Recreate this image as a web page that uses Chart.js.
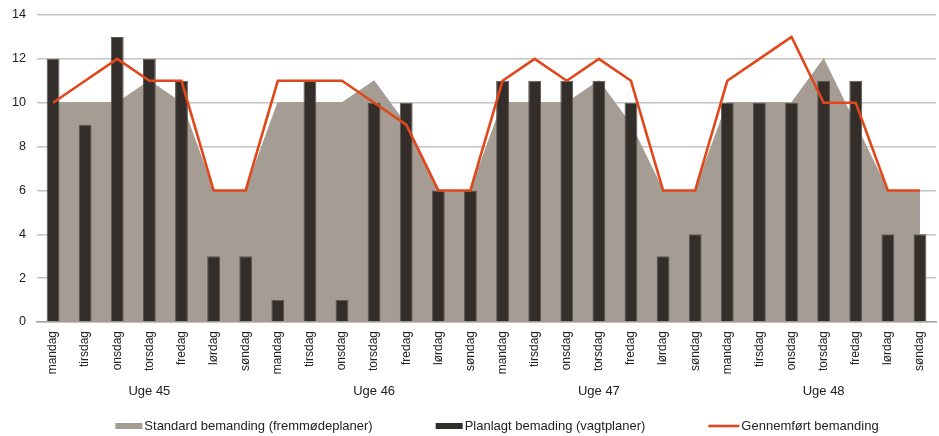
<!DOCTYPE html>
<html>
<head>
<meta charset="utf-8">
<script src="https://cdn.jsdelivr.net/npm/chart.js@4"></script>
<style>
  html, body { margin: 0; padding: 0; background: #ffffff; }
  #wrap { width: 939px; height: 436px; position: relative; }
</style>
</head>
<body>
<div id="wrap"><canvas id="chart"></canvas></div>
<script>
// Week days and weeks shown on the category axis
const days = ['mandag', 'tirsdag', 'onsdag', 'torsdag', 'fredag', 'lørdag', 'søndag'];
const weeks = ['Uge 45', 'Uge 46', 'Uge 47', 'Uge 48'];

// Staffing per day, four weeks in a row
const standardStaffing = [10, 10, 10, 11, 10, 6, 6,  10, 10, 10, 11, 9, 6, 6,  10, 10, 10, 11, 9, 6, 6,  10, 10, 10, 12, 9, 6, 6];
const plannedStaffing  = [12, 9, 13, 12, 11, 3, 3,   1, 11, 1, 10, 10, 6, 6,   11, 11, 11, 11, 10, 3, 4,  10, 10, 10, 11, 11, 4, 4];
const actualStaffing   = [10, 11, 12, 11, 11, 6, 6,  11, 11, 11, 10, 9, 6, 6,  11, 12, 11, 12, 11, 6, 6,  11, 12, 13, 10, 10, 6, 6];

const seriesNames = ['Standard bemanding (fremmødeplaner)', 'Planlagt bemading (vagtplaner)', 'Gennemført bemanding'];

// Day labels for every column, week label under the middle day of each week
const dayLabels = weeks.flatMap(() => days);
const weekLabels = weeks.flatMap(w => days.map((d, i) => (i === 3 ? w : '')));

const FONT = 'Liberation Sans, Arial, sans-serif';
const TEXT = '#222222';

// Key row under the chart: swatch + name per dataset, spread out and centred
const seriesKey = {
  id: 'seriesKey',
  afterDraw(chart, args, opts) {
    const ctx = chart.ctx;
    ctx.save();
    ctx.font = `${opts.fontSize}px ${FONT}`;
    ctx.textBaseline = 'middle';
    ctx.fillStyle = TEXT;
    const entries = chart.data.datasets.map(ds => ({
      ds,
      swatch: ds.type === 'line' && !ds.fill ? opts.lineSwatch : opts.boxSwatch,
      textW: ctx.measureText(ds.label).width
    }));
    const total = entries.reduce((s, e) => s + e.swatch + opts.textGap + e.textW, 0) + opts.itemGap * (entries.length - 1);
    let x = opts.centerX - total / 2;
    const y = opts.y;
    entries.forEach(e => {
      const ds = e.ds;
      if (ds.type === 'line' && !ds.fill) {
        ctx.strokeStyle = ds.borderColor;
        ctx.lineWidth = ds.borderWidth;
        ctx.beginPath();
        ctx.moveTo(x, y);
        ctx.lineTo(x + e.swatch, y);
        ctx.stroke();
      } else {
        ctx.fillStyle = ds.backgroundColor;
        ctx.fillRect(x, y - opts.boxH / 2, e.swatch, opts.boxH);
      }
      x += e.swatch + opts.textGap;
      ctx.fillStyle = TEXT;
      ctx.fillText(ds.label, x, y + 0.5);
      x += e.textW + opts.itemGap;
    });
    ctx.restore();
  }
};

new Chart(document.getElementById('chart'), {
  type: 'bar',
  data: {
    labels: dayLabels,
    datasets: [
      {
        type: 'line',
        label: seriesNames[0],
        data: standardStaffing,
        fill: 'origin',
        backgroundColor: '#a59c94',
        borderColor: '#a59c94',
        borderWidth: 1,
        pointRadius: 0,
        tension: 0,
        order: 3
      },
      {
        type: 'bar',
        label: seriesNames[1],
        data: plannedStaffing,
        backgroundColor: '#342e2a',
        borderColor: '#5e5650',
        borderWidth: 1,
        barPercentage: 0.4,
        categoryPercentage: 1,
        order: 2
      },
      {
        type: 'line',
        label: seriesNames[2],
        data: actualStaffing,
        fill: false,
        borderColor: '#e0481c',
        backgroundColor: '#e0481c',
        borderWidth: 2.6,
        pointRadius: 0,
        tension: 0,
        order: 1
      }
    ]
  },
  plugins: [seriesKey],
  options: {
    responsive: true,
    maintainAspectRatio: false,
    animation: false,
    layout: { padding: { top: 15, right: 3, left: 0, bottom: 34 } },
    plugins: {
      tooltip: { enabled: false },
      legend: { display: false },
      seriesKey: {
        fontSize: 13,
        y: 426,
        centerX: 497,
        boxSwatch: 27,
        lineSwatch: 31,
        boxH: 6,
        textGap: 2,
        itemGap: 63
      }
    },
    scales: {
      x: {
        type: 'category',
        position: 'bottom',
        offset: true,
        grid: { display: true, drawOnChartArea: false, drawTicks: true, tickLength: 9, tickColor: 'rgba(0,0,0,0)' },
        border: { display: true, color: '#a6a6a6', width: 1.5 },
        ticks: {
          autoSkip: false,
          minRotation: 90,
          maxRotation: 90,
          padding: 0,
          color: TEXT,
          font: { family: FONT, size: 12 }
        },
        afterFit(scale) { scale.height = 56; }
      },
      x2: {
        type: 'category',
        position: 'bottom',
        labels: weekLabels,
        offset: true,
        grid: { display: false, drawTicks: false },
        border: { display: false },
        ticks: {
          autoSkip: false,
          minRotation: 0,
          maxRotation: 0,
          padding: 6,
          color: TEXT,
          font: { family: FONT, size: 13 }
        },
        afterFit(scale) { scale.height = 24; }
      },
      y: {
        min: 0,
        max: 14,
        ticks: {
          stepSize: 2,
          padding: 3,
          color: TEXT,
          font: { family: FONT, size: 12.6 }
        },
        grid: { color: '#c4c4c4', lineWidth: 1.5, drawTicks: true, tickLength: 8, tickColor: 'rgba(0,0,0,0)' },
        border: { display: false },
        afterFit(scale) { scale.width = 37; }
      }
    }
  }
});
</script>
</body>
</html>
